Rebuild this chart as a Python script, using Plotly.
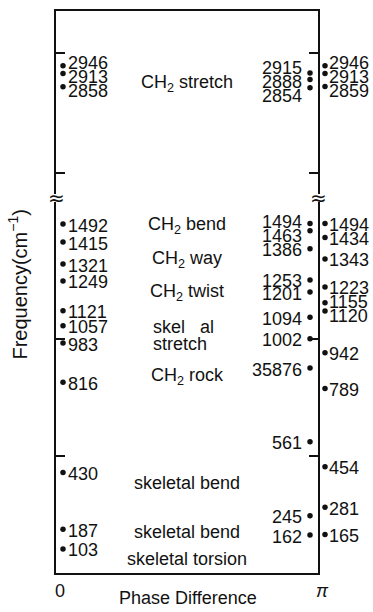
import math
import plotly.graph_objects as go

# Band frequencies (cm^-1) at phase difference 0
freq_0 = [2946, 2913, 2858, 1492, 1415, 1321, 1249, 1121, 1057, 983, 816, 430, 187, 103]
text_0 = [str(v) for v in freq_0]

# Band frequencies at phase difference pi (inner column)
freq_pi_in = [2915, 2888, 2854, 1494, 1463, 1386, 1253, 1201, 1094, 1002, 876, 561, 245, 162]
text_pi_in = ["2915", "2888", "2854", "1494", "1463", "1386", "1253", "1201",
              "1094", "1002", "35876", "561", "245", "162"]

# Band frequencies at phase difference pi (outer column)
freq_pi_out = [2946, 2913, 2859, 1494, 1434, 1343, 1223, 1155, 1120, 942, 789, 454, 281, 165]
text_pi_out = [str(v) for v in freq_pi_out]

# Vibrational mode names and the frequency each one is written at
mode_names = ["CH<sub>2</sub> stretch", "CH<sub>2</sub> bend", "CH<sub>2</sub> way",
              "CH<sub>2</sub> twist", "CH<sub>2</sub> rock",
              "skeletal bend", "skeletal bend", "skeletal torsion"]
mode_freqs = [2872, 1484, 1339, 1199, 839, 386, 176, 58]
# two-line, left-aligned name for the skeletal stretch
split_name = ["skel\u00a0\u00a0\u00a0al", "stretch"]
split_freqs = [1051, 979]

phase_ticks = [0, math.pi]
phase_labels = ["0", "<i>\u03c0</i>"]
low_ticks = [500, 1000]
high_ticks = [2500, 3000]

# ---- layout geometry (pixels) ----
W, H = 373, 612
ML, MR, MT, MB = 40, 40, 11, 34          # plot area
FL, FR = 56, 318                          # frame left / right edge
PW, PH = W - ML - MR, H - MT - MB
FW = FR - FL
bottom_px = MT + PH
low_top_px, high_bot_px = 204, 196
low_dom = [0.0, (bottom_px - low_top_px) / PH]
high_dom = [(bottom_px - high_bot_px) / PH, 1.0]
frame_dom = [(FL - ML) / PW, (FR - ML) / PW]
low_range = [0, 1585]
high_range = [2409, 3174]
SPLIT = 2000

FONT = "Liberation Sans, Arial, sans-serif"
FS = 18
INK = "#111111"


def px_x(px):
    return (px - ML) / PW


def px_y(py):
    return (bottom_px - py) / PH


def to_px(f):
    """Pixel row of a frequency on the broken axis."""
    if f > SPLIT:
        r, d = high_range, high_dom
    else:
        r, d = low_range, low_dom
    frac = d[0] + (f - r[0]) / (r[1] - r[0]) * (d[1] - d[0])
    return MT + PH * (1 - frac)


def spread(px, gap):
    """Push label rows apart so neighbouring labels keep at least `gap` pixels."""
    order = sorted(range(len(px)), key=lambda i: px[i])
    groups = [[i] for i in order]

    def place(g):
        c = sum(px[i] for i in g) / len(g)
        s = c - gap * (len(g) - 1) / 2
        return [s + k * gap for k in range(len(g))]

    merged = True
    while merged:
        merged = False
        for k in range(len(groups) - 1):
            if place(groups[k + 1])[0] - place(groups[k])[-1] < gap - 1e-6:
                groups[k] = groups[k] + groups[k + 1]
                del groups[k + 1]
                merged = True
                break
    out = [0.0] * len(px)
    for g in groups:
        for i, y in zip(g, place(g)):
            out[i] = y
    return out


def label_rows(freqs, gap=14):
    rows = [0.0] * len(freqs)
    for panel in (True, False):
        idx = [i for i, f in enumerate(freqs) if (f > SPLIT) == panel]
        px = [to_px(freqs[i]) for i in idx]
        for i, y in zip(idx, spread(px, gap)):
            rows[i] = y
    return rows


px2x = math.pi / FW
columns = [
    # (freqs, texts, phase, dot offset px, label xshift, anchor)
    (freq_0, text_0, 0.0, 7, 10, "left"),
    (freq_pi_in, text_pi_in, math.pi, -8, -14, "right"),
    (freq_pi_out, text_pi_out, math.pi, 7, 9, "left"),
]

fig = go.Figure()
annotations = []

for freqs, texts, phase, dot_off, xs, anchor in columns:
    rows = label_rows(freqs)
    for panel, xa, ya, ydot in ((False, "x", "y", "y3"), (True, "x2", "y2", "y4")):
        sel = [i for i, f in enumerate(freqs) if (f > SPLIT) == panel]
        # dots sit on a wider phase axis so the outer column stays visible
        fig.add_trace(go.Scatter(
            x=[phase + dot_off * px2x] * len(sel),
            y=[freqs[i] for i in sel],
            mode="markers",
            marker=dict(size=5.5, color=INK),
            xaxis="x3", yaxis=ydot, cliponaxis=False, showlegend=False,
            hoverinfo="skip",
        ))
        for i in sel:
            annotations.append(dict(
                x=phase, y=freqs[i], xref=xa, yref=ya,
                text=texts[i], showarrow=False,
                xanchor=anchor, yanchor="middle",
                xshift=xs, yshift=-(rows[i] - to_px(freqs[i])) - 1.5,
                font=dict(family=FONT, size=FS, color=INK),
            ))

for name, f in zip(mode_names, mode_freqs):
    xa, ya = ("x2", "y2") if f > SPLIT else ("x", "y")
    annotations.append(dict(
        x=math.pi / 2, y=f, xref=xa, yref=ya, text=name, showarrow=False,
        xanchor="center", yanchor="middle",
        font=dict(family=FONT, size=FS, color=INK),
    ))
for name, f in zip(split_name, split_freqs):
    annotations.append(dict(
        x=math.pi / 2, y=f, xref="x", yref="y", text=name, showarrow=False,
        xanchor="left", yanchor="middle", xshift=-36,
        font=dict(family=FONT, size=FS, color=INK),
    ))

# axis titles
annotations.append(dict(
    x=px_x(18), y=px_y(287), xref="paper", yref="paper",
    text="Frequency(cm<sup>\u22121</sup>)", textangle=-90, showarrow=False,
    xanchor="center", yanchor="middle",
    font=dict(family=FONT, size=20, color=INK),
))
annotations.append(dict(
    x=px_x(188), y=px_y(603), xref="paper", yref="paper",
    text="Phase Difference", showarrow=False,
    xanchor="center", yanchor="middle",
    font=dict(family=FONT, size=FS, color=INK),
))

# break marks on both sides of the frame
for xp in frame_dom:
    annotations.append(dict(
        x=xp, y=px_y(200), xref="paper", yref="paper",
        text="\u2248", showarrow=False, xanchor="center", yanchor="middle",
        font=dict(family="DejaVu Sans", size=20, color=INK),
    ))

yaxis_common = dict(
    showline=True, linecolor=INK, linewidth=1.8, mirror="ticks",
    ticks="inside", ticklen=9, tickwidth=1.6, tickcolor=INK,
    showticklabels=False, showgrid=False, zeroline=False, fixedrange=True,
)

fig.update_layout(
    width=W, height=H,
    margin=dict(l=ML, r=MR, t=MT, b=MB, pad=0),
    paper_bgcolor="white", plot_bgcolor="rgba(0,0,0,0)",
    showlegend=False,
    xaxis=dict(
        domain=frame_dom, anchor="y", range=[0, math.pi],
        showline=True, linecolor=INK, linewidth=1.8,
        tickvals=phase_ticks, ticktext=phase_labels, ticks="",
        ticklabelshift=4,
        tickfont=dict(family=FONT, size=FS, color=INK),
        showgrid=False, zeroline=False, fixedrange=True,
    ),
    xaxis2=dict(
        domain=frame_dom, anchor="y2", range=[0, math.pi], side="top",
        showline=True, linecolor=INK, linewidth=1.8,
        showticklabels=False, ticks="", showgrid=False, zeroline=False,
        fixedrange=True,
    ),
    xaxis3=dict(
        domain=[0, 1], anchor="y3", visible=False, fixedrange=True,
        range=[-(FL - ML) * px2x, math.pi + (ML + PW - FR) * px2x],
    ),
    yaxis=dict(domain=low_dom, anchor="x", range=low_range,
               tickvals=low_ticks, **yaxis_common),
    yaxis2=dict(domain=high_dom, anchor="x2", range=high_range,
                tickvals=high_ticks, **yaxis_common),
    yaxis3=dict(domain=low_dom, anchor="x3", range=low_range,
                visible=False, fixedrange=True),
    yaxis4=dict(domain=high_dom, anchor="x3", range=high_range,
                visible=False, fixedrange=True),
    annotations=annotations,
)

fig.write_html("out.html")
